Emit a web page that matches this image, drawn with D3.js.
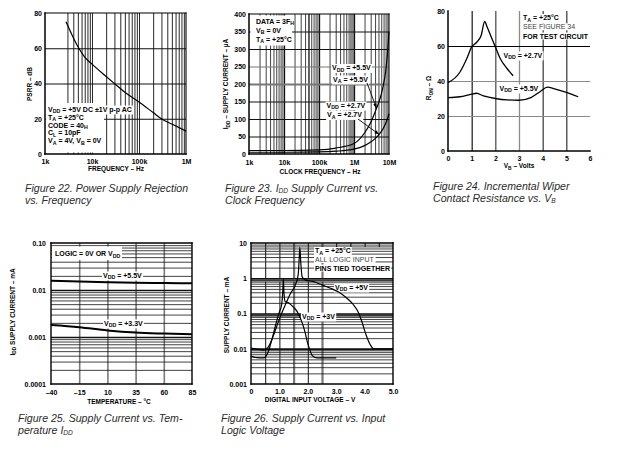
<!DOCTYPE html>
<html><head><meta charset="utf-8">
<script src="https://cdn.jsdelivr.net/npm/d3@7"></script>
<style>
body{margin:0;background:#fff}
svg{display:block}
</style></head><body>
<svg id="c" width="620" height="450"></svg>
<script>
// ---------- DATA ----------
// Figure 22: PSRR vs frequency
const fig22Freq = [2800, 4000, 5000, 7000, 10000, 20000, 30000, 50000, 100000, 200000, 300000, 500000, 1000000];
const fig22Psrr = [75, 66, 61, 55, 51, 44, 40, 35, 29.5, 23.5, 20, 17, 13];
const fig22XTicks = [1e3, 1e4, 1e5, 1e6];
const fig22XLabels = ["1k", "10k", "100k", "1M"];
const fig22YTicks = [0, 20, 40, 60, 80];

// Figure 23: IDD vs clock frequency
const fig23Freq = [1e3, 1e4, 1e5, 3e5, 1e6, 2e6, 3e6, 4e6, 5e6, 6e6, 7e6, 8e6, 9e6, 1e7];
const fig23Idd55 = [10, 10, 12, 17, 30, 60, 90, 120, 145, 170, 200, 235, 285, 350];
const fig23Idd27 = [5, 5, 6, 8, 14, 24, 34, 44, 54, 64, 75, 87, 100, 115];
const fig23XTicks = [1e3, 1e4, 1e5, 1e6, 1e7];
const fig23XLabels = ["1k", "10k", "100k", "1M", "10M"];
const fig23YTicks = [0, 50, 100, 150, 200, 250, 300, 350, 400];

// Figure 24: wiper resistance vs VB
const fig24Vb27 = [0, 0.5, 0.8, 1.0, 1.2, 1.4, 1.55, 1.65, 1.8, 2.0, 2.2, 2.5, 2.75];
const fig24Ron27 = [39, 45, 53, 59.5, 62, 66, 74, 71, 66, 59.5, 53, 47, 43];
const fig24Vb55 = [0, 0.5, 1.0, 1.2, 1.5, 2.0, 2.5, 3.0, 3.5, 3.9, 4.2, 4.5, 5.0, 5.5];
const fig24Ron55 = [30.5, 31, 32.5, 33, 31.5, 30, 29.2, 29, 30.5, 34, 36.5, 35.5, 33.5, 31];
const fig24XTicks = [0, 1, 2, 3, 4, 5, 6];
const fig24YTicks = [0, 20, 40, 60, 80];

// Figure 25: supply current vs temperature
const fig25Temp = [-40, -15, 10, 35, 60, 85];
const fig25Idd55 = [0.0158, 0.0152, 0.0147, 0.0143, 0.0141, 0.0139];
const fig25Idd33 = [0.0018, 0.00162, 0.00138, 0.00124, 0.00118, 0.00114];
const fig25XLabels = ["\u201340", "\u201315", "10", "35", "60", "85"];
const fig25YTicks = [1e-4, 1e-3, 1e-2, 1e-1];
const fig25YLabels = ["0.0001", "0.001", "0.01", "0.10"];

// Figure 26: supply current vs input logic voltage
const fig26Vin5 = [0, 0.2, 0.45, 0.6, 0.8, 1.0, 1.2, 1.39, 1.56, 1.66, 1.7, 1.72, 1.75, 1.8, 1.9, 2.2, 2.5, 2.8, 3.1, 3.38, 3.6, 3.75, 3.9, 4.05, 4.2, 4.32, 4.5, 5.0];
const fig26Idd5 = [0.0105, 0.0098, 0.0092, 0.011, 0.025, 0.07, 0.17, 0.37, 0.64, 1.24, 4, 7.5, 3, 1.1, 0.9, 0.8, 0.65, 0.52, 0.4, 0.27, 0.18, 0.12, 0.06, 0.025, 0.013, 0.01, 0.01, 0.01];
const fig26Vin3 = [0, 0.2, 0.45, 0.6, 0.75, 0.9, 1.0, 1.08, 1.12, 1.14, 1.16, 1.2, 1.33, 1.5, 1.62, 1.8, 1.9, 1.98, 2.08, 2.15, 2.32, 3.0];
const fig26Idd3 = [0.0062, 0.0056, 0.0055, 0.008, 0.02, 0.06, 0.11, 0.18, 0.45, 1.0, 0.4, 0.22, 0.2, 0.15, 0.115, 0.055, 0.03, 0.016, 0.009, 0.0065, 0.0055, 0.0055];
const fig26XTicks = [0, 1, 2, 3, 4, 5];
const fig26XLabels = ["0", "1.0", "2.0", "3.0", "4.0", "5.0"];
const fig26YTicks = [1e-3, 1e-2, 1e-1, 1, 10];
const fig26YLabels = ["0.001", "0.01", "0.1", "1", "10"];

// ---------- HELPERS ----------
const FONT = "'Liberation Sans', Arial, Helvetica, sans-serif";
const svg = d3.select("#c");
svg.append("rect").attr("width", 620).attr("height", 450).attr("fill", "#fff");

function logMinors(lo, hi) {
  const out = [];
  for (let d = Math.round(Math.log10(lo)); d < Math.round(Math.log10(hi)); d++)
    for (let k = 1; k <= 9; k++) out.push(k * Math.pow(10, d));
  out.push(hi);
  return out;
}
function vGrid(g, x, y, vals, color, width) {
  const h = y.range()[0] - y.range()[1];
  const gg = g.append("g").attr("transform", `translate(0,${y.range()[0]})`)
    .call(d3.axisBottom(x).tickValues(vals).tickSize(-h).tickFormat(""));
  gg.select(".domain").remove();
  gg.selectAll(".tick line").attr("stroke", d => color(d)).attr("stroke-width", d => width(d));
}
function hGrid(g, x, y, vals, color, width) {
  const w = x.range()[1] - x.range()[0];
  const gg = g.append("g").attr("transform", `translate(${x.range()[0]},0)`)
    .call(d3.axisLeft(y).tickValues(vals).tickSize(-w).tickFormat(""));
  gg.select(".domain").remove();
  gg.selectAll(".tick line").attr("stroke", d => color(d)).attr("stroke-width", d => width(d));
}
function styleAxis(gg) {
  gg.select(".domain").remove();
  gg.attr("font-family", FONT).attr("font-size", 7).attr("font-weight", "bold");
  gg.selectAll(".tick line").remove();
  gg.selectAll(".tick text").attr("fill", "#000");
}
function xLabels(g, x, y, vals, labels, pad) {
  const gg = g.append("g").attr("transform", `translate(0,${y.range()[0]})`)
    .call(d3.axisBottom(x).tickValues(vals).tickSize(0).tickPadding(pad).tickFormat((d, i) => labels[i]));
  styleAxis(gg);
}
function yLabels(g, x, y, vals, labels, pad) {
  const gg = g.append("g").attr("transform", `translate(${x.range()[0]},0)`)
    .call(d3.axisLeft(y).tickValues(vals).tickSize(0).tickPadding(pad).tickFormat((d, i) => labels[i]));
  styleAxis(gg);
}
function frame(g, x, y, sides, w) {
  const [l, r] = x.range(), [b, t] = y.range();
  const segs = [];
  if (sides.includes("l")) segs.push([l, b, l, t]);
  if (sides.includes("b")) segs.push([l, b, r, b]);
  if (sides.includes("t")) segs.push([l, t, r, t]);
  if (sides.includes("r")) segs.push([r, b, r, t]);
  g.selectAll(null).data(segs).enter().append("line")
    .attr("x1", d => d[0]).attr("y1", d => d[1]).attr("x2", d => d[2]).attr("y2", d => d[3])
    .attr("stroke", "#000").attr("stroke-width", w || 1.4).attr("stroke-linecap", "square");
}
// parts: strings or {s:"sub"}
function rich(g, x, y, parts, o = {}) {
  const size = o.size || 7;
  const subScale = o.subScale || 0.75, subShift = o.subShift || 0.28;
  const t = g.append("text").attr("x", x).attr("y", y)
    .attr("font-family", FONT).attr("font-size", size)
    .attr("font-weight", o.weight || "bold").attr("fill", o.fill || "#000")
    .attr("text-anchor", o.anchor || "start");
  if (o.italic) t.attr("font-style", "italic");
  if (o.rotate) t.attr("transform", `rotate(-90,${x},${y})`);
  let shifted = 0;
  parts.forEach(p => {
    if (typeof p === "string") {
      const ts = t.append("tspan").text(p);
      if (shifted) { ts.attr("dy", -shifted); shifted = 0; }
    } else {
      const sh = size * subShift;
      t.append("tspan").text(p.s).attr("font-size", size * subScale).attr("dy", sh - shifted);
      shifted = sh;
    }
  });
  if (o.bg) {
    const bb = t.node().getBBox();
    g.insert("rect", () => t.node())
      .attr("x", bb.x - 1).attr("y", bb.y).attr("width", bb.width + 2).attr("height", bb.height)
      .attr("fill", "#fff");
  }
  return t;
}
function whiteBox(g, x0, y0, x1, y1) {
  g.append("rect").attr("x", x0).attr("y", y0).attr("width", x1 - x0).attr("height", y1 - y0).attr("fill", "#fff");
}
function plotLine(g, x, y, xs, ys, w) {
  const pts = xs.map((v, i) => [v, ys[i]]);
  g.append("path").datum(pts)
    .attr("d", d3.line().x(d => x(d[0])).y(d => y(d[1])).curve(d3.curveMonotoneX))
    .attr("fill", "none").attr("stroke", "#000").attr("stroke-width", w || 1.2)
    .attr("stroke-linejoin", "round");
}
function arrow(g, x1, y1, x2, y2) {
  g.append("line").attr("x1", x1).attr("y1", y1).attr("x2", x2).attr("y2", y2)
    .attr("stroke", "#000").attr("stroke-width", 0.9);
  const a = Math.atan2(y2 - y1, x2 - x1), L = 4.5, W = 1.8;
  const bx = x2 - L * Math.cos(a), by = y2 - L * Math.sin(a);
  const px = -Math.sin(a) * W, py = Math.cos(a) * W;
  g.append("path").attr("d", `M${x2},${y2}L${bx + px},${by + py}L${bx - px},${by - py}Z`).attr("fill", "#000");
}
function caption(x, y, lines) {
  lines.forEach((parts, i) => rich(svg, x, y + i * 12.5, parts,
    { size: 10.6, weight: "normal", italic: true, fill: "#2b2b2b", subScale: 0.62, subShift: 0.14 }));
}

// ---------- FIGURE 22 ----------
{
  const g = svg.append("g");
  const x = d3.scaleLog().domain([1e3, 1e6]).range([45, 186]);
  const y = d3.scaleLinear().domain([0, 80]).range([154, 13]);
  vGrid(g, x, y, logMinors(1e3, 1e6).filter(v => v >= 3000 && v < 1e6), () => "#111", () => 0.9);
  hGrid(g, x, y, [20, 40, 60], () => "#111", () => 1.2);
  whiteBox(g, 46, 103, 104, 152.5);
  const tl = [
    ["V", { s: "DD" }, " = +5V DC \u00B11V p-p AC"],
    ["T", { s: "A" }, " = +25\u00B0C"],
    ["CODE = 40", { s: "H" }],
    ["C", { s: "L" }, " = 10pF"],
    ["V", { s: "A" }, " = 4V, V", { s: "B" }, " = 0V"]
  ];
  const by = [111.5, 119.5, 127.5, 135.3, 143.2];
  tl.forEach((p, i) => rich(g, 48, by[i], p, { bg: true }));
  frame(g, x, y, "lb", 1.5);
  frame(g, x, y, "tr", 1.1);
  plotLine(g, x, y, fig22Freq, fig22Psrr, 1.2);
  xLabels(g, x, y, fig22XTicks, fig22XLabels, 5);
  yLabels(g, x, y, fig22YTicks, fig22YTicks.map(String), 3);
  rich(g, 116, 170.5, ["FREQUENCY \u2013 Hz"], { size: 6.5, anchor: "middle" });
  rich(g, 32, 84, ["PSRR \u2013 dB"], { size: 6.5, anchor: "middle", rotate: true });
}
caption(25, 191.5, [["Figure 22.  Power Supply Rejection"], ["vs. Frequency"]]);

// ---------- FIGURE 23 ----------
{
  const g = svg.append("g");
  const x = d3.scaleLog().domain([1e3, 1e7]).range([249, 389]);
  const y = d3.scaleLinear().domain([0, 400]).range([154, 14]);
  const vals = logMinors(1e3, 1e7).filter(v => v > 1e3 && v < 1e7);
  vGrid(g, x, y, vals,
    d => (d >= 7.9e5 && d <= 9.1e5) ? "#8a8a8a" : "#111",
    d => (d >= 7.9e5 && d <= 9.1e5) ? 2.6 : (d === 1e4 || d === 1e5 || d === 1e6 || d === 5e4) ? 1.3 : 0.8);
  hGrid(g, x, y, [50, 100, 150, 200, 250, 300, 350],
    d => (d === 200 || d === 250) ? "#777" : "#111",
    d => (d === 200) ? 1.8 : 1.1);
  whiteBox(g, 250.5, 15.5, 292, 45.5);
  rich(g, 256, 23.5, ["DATA = 3F", { s: "H" }]);
  rich(g, 256, 32.5, ["V", { s: "B" }, " = 0V"]);
  rich(g, 256, 41.5, ["T", { s: "A" }, " = +25\u00B0C"]);
  rich(g, 332, 70, ["V", { s: "DD" }, " = +5.5V"], { bg: true });
  rich(g, 333, 81.5, ["V", { s: "A" }, " = +5.5V"], { bg: true });
  rich(g, 326.5, 107.5, ["V", { s: "DD" }, " = +2.7V"], { bg: true });
  rich(g, 327, 117, ["V", { s: "A" }, " = +2.7V"], { bg: true });
  frame(g, x, y, "lb", 1.5);
  frame(g, x, y, "tr", 1.1);
  plotLine(g, x, y, fig23Freq, fig23Idd55, 1.2);
  plotLine(g, x, y, fig23Freq, fig23Idd27, 1.2);
  arrow(g, 367, 83, x(4.4e6), y(131));
  arrow(g, 358, 119, x(5.2e6), y(56));
  xLabels(g, x, y, fig23XTicks, fig23XLabels, 6);
  yLabels(g, x, y, fig23YTicks, fig23YTicks.map(String), 3);
  rich(g, 320, 174, ["CLOCK FREQUENCY \u2013 Hz"], { size: 6.5, anchor: "middle" });
  rich(g, 228, 84, ["I", { s: "DD" }, " \u2013 SUPPLY CURRENT \u2013 \u00B5A"], { size: 6.5, anchor: "middle", rotate: true });
}
caption(225, 191.5, [["Figure 23.  I", { s: "DD" }, " Supply Current vs."], ["Clock Frequency"]]);

// ---------- FIGURE 24 ----------
{
  const g = svg.append("g");
  const x = d3.scaleLinear().domain([0, 6]).range([448, 590]);
  const y = d3.scaleLinear().domain([0, 80]).range([151, 11]);
  vGrid(g, x, y, [1, 2, 3, 4, 5], d => ({ 1: "#000", 2: "#333", 3: "#8a8a8a", 4: "#222", 5: "#222" })[d], d => d === 3 ? 1.3 : 1.1);
  hGrid(g, x, y, [20, 40, 60], d => d === 60 ? "#000" : "#8a8a8a", d => 1.2);
  rich(g, 523, 20, ["T", { s: "A" }, " = +25\u00B0C"], { bg: true });
  rich(g, 523, 29.3, ["SEE FIGURE 34"], { bg: true, weight: "normal", fill: "#444" });
  rich(g, 523, 38.5, ["FOR TEST CIRCUIT"], { bg: true });
  rich(g, 503.5, 57.5, ["V", { s: "DD" }, " = +2.7V"], { bg: true });
  rich(g, 499.5, 90.5, ["V", { s: "DD" }, " = +5.5V"], { bg: true });
  frame(g, x, y, "lb", 1.5);
  plotLine(g, x, y, fig24Vb27, fig24Ron27, 1.3);
  plotLine(g, x, y, fig24Vb55, fig24Ron55, 1.3);
  xLabels(g, x, y, fig24XTicks, fig24XTicks.map(String), 5);
  yLabels(g, x, y, fig24YTicks, fig24YTicks.map(String), 3);
  rich(g, 519, 168, ["V", { s: "B" }, " \u2013 Volts"], { size: 6.5, anchor: "middle" });
  rich(g, 431, 88, ["R", { s: "ON" }, " \u2013 \u03A9"], { size: 6.5, anchor: "middle", rotate: true });
}
caption(433, 189.5, [["Figure 24.  Incremental Wiper"], ["Contact Resistance vs. V", { s: "B" }]]);

// ---------- FIGURE 25 ----------
{
  const g = svg.append("g");
  const x = d3.scaleLinear().domain([-40, 85]).range([51, 192]);
  const y = d3.scaleLog().domain([1e-4, 1e-1]).range([384, 243]);
  vGrid(g, x, y, [-15, 10, 35, 60], () => "#7a7a7a", () => 1.6);
  const hv = logMinors(1e-4, 1e-1).filter(v => v > 1.0001e-4 && v < 0.0999);
  hGrid(g, x, y, hv,
    d => "#111",
    d => (Math.abs(d - 1e-3) < 1e-9 || Math.abs(d - 1e-2) < 1e-9) ? 1.6 : 0.8);
  whiteBox(g, 52, 246.5, 122, 260);
  rich(g, 55, 256, ["LOGIC = 0V OR V", { s: "DD" }]);
  rich(g, 103, 277.5, ["V", { s: "DD" }, " = +5.5V"], { bg: true });
  rich(g, 104, 325.5, ["V", { s: "DD" }, " = +3.3V"], { bg: true });
  frame(g, x, y, "lbtr", 1.4);
  plotLine(g, x, y, fig25Temp, fig25Idd55, 2);
  plotLine(g, x, y, fig25Temp, fig25Idd33, 2);
  xLabels(g, x, y, fig25Temp, fig25XLabels, 6);
  yLabels(g, x, y, fig25YTicks, fig25YLabels, 5);
  rich(g, 119, 403.5, ["TEMPERATURE \u2013 \u00B0C"], { size: 6.5, anchor: "middle" });
  rich(g, 14.5, 312, ["I", { s: "DD" }, " SUPPLY CURRENT \u2013 mA"], { size: 6.5, anchor: "middle", rotate: true });
}
caption(18, 421.5, [["Figure 25.  Supply Current vs. Tem-"], ["perature I", { s: "DD" }]]);

// ---------- FIGURE 26 ----------
{
  const g = svg.append("g");
  const x = d3.scaleLinear().domain([0, 5]).range([251, 393]);
  const y = d3.scaleLog().domain([1e-3, 10]).range([384, 243]);
  vGrid(g, x, y, [0.5, 1.0, 1.5, 2.0, 2.5], d => (d === 1.5 || d === 2.5) ? "#777" : "#111", d => (d === 1.5 || d === 2.5) ? 2.2 : 1);
  const tg = g.append("g").attr("transform", `translate(0,${y.range()[1]})`)
    .call(d3.axisBottom(x).tickValues([3.0, 3.5, 4.0, 4.5]).tickSize(4).tickFormat(""));
  tg.select(".domain").remove();
  tg.selectAll(".tick line").attr("stroke", "#000").attr("stroke-width", 1);
  const hv = logMinors(1e-3, 10).filter(v => v > 1.0001e-3 && v < 9.99);
  hGrid(g, x, y, [0.09, 0.9], () => "#9a9a9a", () => 3);
  hGrid(g, x, y, hv,
    d => "#111",
    d => (Math.abs(d - 1e-2) < 1e-9) ? 2 : (Math.abs(d - 0.1) < 1e-9 || Math.abs(d - 1) < 1e-9) ? 1.5 : 0.8);
  rich(g, 315, 253, ["T", { s: "A" }, " = +25\u00B0C"], { bg: true });
  rich(g, 315, 262, ["ALL LOGIC INPUT"], { bg: true, weight: "normal", fill: "#444" });
  rich(g, 315, 270.5, ["PINS TIED TOGETHER"], { bg: true });
  rich(g, 335, 289.5, ["V", { s: "DD" }, " = +5V"], { bg: true });
  rich(g, 302, 318.5, ["V", { s: "DD" }, " = +3V"], { bg: true });
  frame(g, x, y, "lbtr", 1.4);
  plotLine(g, x, y, fig26Vin5, fig26Idd5, 1.2);
  plotLine(g, x, y, fig26Vin3, fig26Idd3, 1.2);
  xLabels(g, x, y, fig26XTicks, fig26XLabels, 5);
  yLabels(g, x, y, fig26YTicks, fig26YLabels, 4);
  rich(g, 310, 402, ["DIGITAL INPUT VOLTAGE \u2013 V"], { size: 6.5, anchor: "middle" });
  rich(g, 229, 315, ["SUPPLY CURRENT \u2013 mA"], { size: 6.5, anchor: "middle", rotate: true });
}
caption(221, 421.5, [["Figure 26.  Supply Current vs. Input"], ["Logic Voltage"]]);
</script>
</body></html>
